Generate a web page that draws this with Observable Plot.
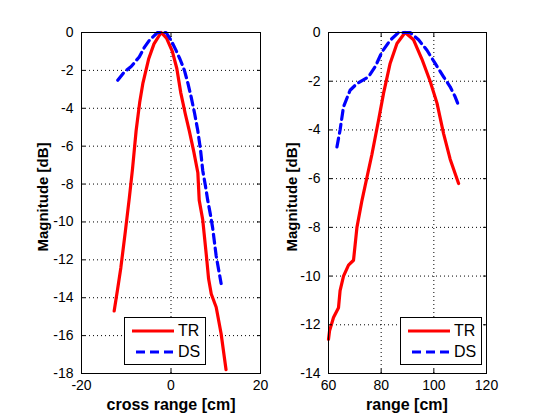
<!DOCTYPE html>
<html>
<head>
<meta charset="utf-8">
<script src="https://cdn.jsdelivr.net/npm/d3@7"></script>
<script src="https://cdn.jsdelivr.net/npm/@observablehq/plot@0.6"></script>
<style>
  html, body { margin: 0; padding: 0; background: #fff; }
  #wrap { position: relative; width: 560px; height: 420px; overflow: hidden; font-family: "Liberation Sans", Arial, sans-serif; }
  .panel { position: absolute; top: 0; }
  .xlab { position: absolute; font-weight: bold; font-size: 16px; white-space: nowrap; transform: translateX(-50%); }
  .ylab { position: absolute; font-weight: bold; font-size: 15px; line-height: 16px; white-space: nowrap; transform: translate(-50%, -50%) rotate(-90deg); }
  .legend { position: absolute; border: 1px solid #000; background: #fff; box-sizing: border-box; }
  .legend .row { position: absolute; left: 0; height: 20px; display: flex; align-items: center; font-size: 16px; }
  .legend svg { margin-right: 4px; }
</style>
</head>
<body>
<div id="wrap"></div>
<script>
// ---- data ----
const seriesNames = ["TR", "DS"];
const seriesColors = ["#ff0000", "#0000ff"];

// left panel: cross range [cm]
const crossTR_x = [-12.7, -11.9, -11.2, -10.2, -9.3, -8.6, -7.8, -7.0, -6.3, -5.0, -3.8, -2.2, -1.0, 0.3, 1.3, 2.2, 3.2, 4.1, 5.1, 6.0, 6.3, 7.1, 7.4, 8.0, 8.4, 9.0, 10.1, 11.2, 12.3];
const crossTR_y = [-14.7, -13.5, -12.4, -10.5, -8.7, -7.2, -5.2, -3.7, -2.7, -1.4, -0.6, 0, -0.3, -1.0, -1.9, -3.2, -4.3, -5.2, -6.3, -7.4, -8.85, -9.9, -10.6, -12.0, -13.0, -13.8, -14.5, -15.9, -17.8];
const crossDS_x = [-11.9, -10.5, -8.9, -7.1, -6.0, -4.8, -3.0, -1.1, 0.0, 1.1, 2.0, 3.0, 3.8, 4.5, 5.3, 6.0, 6.6, 7.1, 7.7, 8.2, 8.8, 9.3, 10.1, 11.2];
const crossDS_y = [-2.52, -2.1, -1.8, -1.29, -0.8, -0.4, 0, 0, -0.4, -0.93, -1.4, -2.0, -2.7, -3.4, -4.3, -5.2, -6.2, -7.3, -8.1, -8.85, -9.6, -10.3, -11.8, -13.25];

// right panel: range [cm]
const rangeTR_x = [60.0, 60.4, 61.9, 63.8, 64.4, 65.7, 67.6, 69.5, 70.8, 72.7, 73.9, 76.5, 79.0, 80.9, 83.4, 86.0, 89.1, 92.3, 95.5, 98.6, 101.2, 103.7, 106.2, 109.4];
const rangeTR_y = [-12.6, -12.25, -11.7, -11.3, -10.6, -10.0, -9.55, -9.35, -8.0, -6.9, -6.3, -5.0, -3.6, -2.5, -1.27, -0.45, 0, -0.3, -1.1, -2.0, -2.9, -4.15, -5.2, -6.2];
const rangeDS_x = [63.2, 64.4, 65.7, 68.2, 70.8, 75.2, 77.7, 80.3, 83.4, 86.6, 91.0, 94.2, 97.4, 100.5, 103.7, 106.2, 108.1, 109.4];
const rangeDS_y = [-4.7, -4.0, -3.05, -2.37, -2.1, -1.82, -1.41, -0.8, -0.32, 0, 0, -0.3, -0.73, -1.27, -1.82, -2.23, -2.64, -3.0];

const leftXTicks = [-20, 0, 20];
const leftYTicks = [0, -2, -4, -6, -8, -10, -12, -14, -16, -18];
const rightXTicks = [60, 80, 100, 120];
const rightYTicks = [0, -2, -4, -6, -8, -10, -12, -14];

const xLabels = ["cross range [cm]", "range [cm]"];
const yLabel = "Magnitude [dB]";

function toRows(xs, ys, name) { return xs.map((x, i) => ({x, y: ys[i], s: name})); }

function panel({tr, ds, xDomain, yDomain, xTicks, yTicks, marginLeft, marginRight}) {
  return Plot.plot({
    width: 280, height: 420,
    marginLeft, marginRight, marginTop: 32, marginBottom: 47,
    style: {fontFamily: "'Liberation Sans', Arial, sans-serif", fontSize: "14px", color: "#000", background: "transparent", overflow: "visible"},
    x: {domain: xDomain},
    y: {domain: yDomain},
    marks: [
      Plot.ruleX(xTicks, {stroke: "#000", strokeWidth: 1, strokeDasharray: "1,3"}),
      Plot.ruleY(yTicks, {stroke: "#000", strokeWidth: 1, strokeDasharray: "1,3"}),
      Plot.line(tr, {x: "x", y: "y", stroke: seriesColors[0], strokeWidth: 3.2}),
      Plot.line(ds, {x: "x", y: "y", stroke: seriesColors[1], strokeWidth: 3.2, strokeDasharray: "9,5"}),
      Plot.frame({stroke: "#000", strokeWidth: 1}),
      Plot.axisX({ticks: xTicks, anchor: "bottom", tickSize: -4, tickPadding: 11, label: null, tickFormat: d => String(d)}),
      Plot.axisX({ticks: xTicks, anchor: "top", tickSize: -4, label: null, tickFormat: () => ""}),
      Plot.axisY({ticks: yTicks, anchor: "left", tickSize: -4, tickPadding: 12, label: null, tickFormat: d => String(d)}),
      Plot.axisY({ticks: yTicks, anchor: "right", tickSize: -4, label: null, tickFormat: () => ""})
    ]
  });
}

const wrap = document.getElementById("wrap");

const p1 = panel({
  tr: toRows(crossTR_x, crossTR_y, seriesNames[0]),
  ds: toRows(crossDS_x, crossDS_y, seriesNames[1]),
  xDomain: [-20, 20], yDomain: [-18, 0], xTicks: leftXTicks, yTicks: leftYTicks,
  marginLeft: 81, marginRight: 20
});
p1.classList.add("panel"); p1.style.left = "0px";
wrap.appendChild(p1);

const p2 = panel({
  tr: toRows(rangeTR_x, rangeTR_y, seriesNames[0]),
  ds: toRows(rangeDS_x, rangeDS_y, seriesNames[1]),
  xDomain: [60, 120], yDomain: [-14, 0], xTicks: rightXTicks, yTicks: rightYTicks,
  marginLeft: 48, marginRight: 74
});
p2.classList.add("panel"); p2.style.left = "280px";
wrap.appendChild(p2);

function addDiv(cls, text, css) {
  const d = document.createElement("div");
  d.className = cls; d.textContent = text;
  Object.assign(d.style, css);
  wrap.appendChild(d);
  return d;
}
addDiv("xlab", xLabels[0], {left: "171px", top: "396px"});
addDiv("xlab", xLabels[1], {left: "407px", top: "396px"});
addDiv("ylab", yLabel, {left: "43px", top: "197px"});
addDiv("ylab", yLabel, {left: "292px", top: "197px"});

function legend(left, top) {
  const box = document.createElement("div");
  box.className = "legend";
  Object.assign(box.style, {left: left + "px", top: top + "px", width: "82px", height: "48px"});
  seriesNames.forEach((name, i) => {
    const row = document.createElement("div");
    row.className = "row";
    row.style.top = (3 + i * 21) + "px";
    row.style.left = "7px";
    const svg = d3.create("svg").attr("width", 42).attr("height", 20);
    svg.append("line").attr("x1", i === 0 ? 0 : 4).attr("x2", 42).attr("y1", 10).attr("y2", 10)
      .attr("stroke", seriesColors[i]).attr("stroke-width", 3.2)
      .attr("stroke-dasharray", i === 0 ? null : "9,5");
    row.appendChild(svg.node());
    const t = document.createElement("span");
    t.textContent = name;
    row.appendChild(t);
    box.appendChild(row);
  });
  wrap.appendChild(box);
}
legend(124, 317);
legend(400, 317);
</script>
</body>
</html>
